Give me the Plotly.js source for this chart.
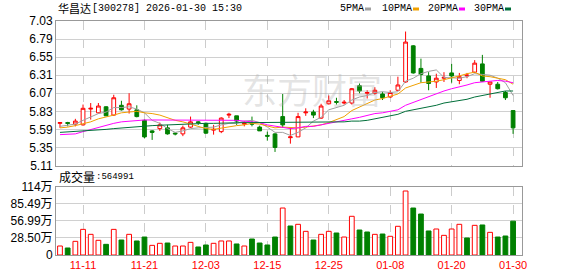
<!DOCTYPE html>
<html><head><meta charset="utf-8">
<script src="https://cdn.plot.ly/plotly-3.0.1.min.js"></script>
<style>html,body{margin:0;padding:0;background:#fff}#chart{width:578px;height:276px}</style>
</head><body><div id="chart"></div>
<script>
const dates = ['11-06','11-07','11-10','11-11','11-12','11-13','11-14','11-17','11-18','11-19','11-20','11-21','11-24','11-25','11-26','11-27','11-28','12-01','12-02','12-03','12-04','12-05','12-08','12-09','12-10','12-11','12-12','12-15','12-16','12-17','12-18','12-19','12-22','12-23','12-24','12-25','12-26','12-29','12-30','12-31','01-05','01-06','01-07','01-08','01-09','01-12','01-13','01-14','01-15','01-16','01-19','01-20','01-21','01-22','01-23','01-26','01-27','01-28','01-29','01-30'];
const openP  = [5.67,5.68,5.66,5.65,5.86,5.81,5.89,5.78,5.91,5.86,5.85,5.71,5.57,5.60,5.61,5.54,5.53,5.62,5.69,5.67,5.58,5.56,5.78,5.77,5.66,5.67,5.62,5.51,5.53,5.76,5.48,5.49,5.81,5.82,5.74,5.93,5.96,5.94,5.94,6.17,6.07,6.07,6.06,6.02,6.11,6.22,6.70,6.40,6.30,6.22,6.27,6.34,6.24,6.30,6.35,6.46,6.19,6.19,6.08,5.84];
const highP  = [5.68,5.69,5.73,5.92,5.94,5.94,5.90,6.05,5.97,6.07,5.91,5.72,5.58,5.68,5.65,5.55,5.64,5.76,5.70,5.68,5.65,5.75,5.81,5.77,5.70,5.76,5.64,5.56,5.54,6.06,5.61,5.81,5.87,5.85,5.93,6.04,6.01,5.98,6.14,6.20,6.11,6.15,6.09,6.11,6.29,6.89,6.71,6.53,6.35,6.33,6.35,6.46,6.34,6.34,6.51,6.58,6.22,6.22,6.10,5.84];
const lowP   = [5.61,5.63,5.63,5.64,5.72,5.80,5.77,5.77,5.84,5.80,5.75,5.47,5.45,5.57,5.52,5.51,5.50,5.61,5.65,5.53,5.52,5.54,5.74,5.65,5.63,5.63,5.57,5.44,5.29,5.61,5.40,5.49,5.77,5.74,5.73,5.92,5.92,5.92,5.92,6.07,6.00,6.05,5.98,6.01,6.10,6.21,6.33,6.21,6.11,6.14,6.22,6.21,6.19,6.27,6.34,6.22,6.01,6.12,5.98,5.53];
const closeP = [5.68,5.67,5.70,5.87,5.87,5.90,5.77,6.01,5.85,5.93,5.76,5.49,5.55,5.65,5.53,5.53,5.61,5.69,5.68,5.54,5.59,5.74,5.79,5.70,5.67,5.66,5.57,5.50,5.35,5.65,5.49,5.76,5.82,5.78,5.90,5.97,5.95,5.95,6.13,6.10,6.08,6.11,6.01,6.08,6.18,6.75,6.34,6.32,6.20,6.27,6.28,6.30,6.29,6.31,6.47,6.23,6.22,6.13,6.01,5.61];
// volume in 万 shares
const volume = [15.0,11.7,22.8,42.8,34.5,24.5,17.8,42.8,25.0,34.5,23.4,30.0,16.1,19.5,20.0,15.0,15.0,21.1,13.4,16.7,19.5,23.4,23.4,18.4,15.0,26.7,20.0,16.7,30.0,78.4,48.4,51.2,39.5,25.0,34.5,39.5,36.7,30.0,64.6,41.7,38.4,34.5,35.0,31.2,47.9,106.8,78.4,68.4,40.1,43.4,32.8,43.4,51.2,28.4,49.5,50.1,37.8,30.0,31.7,56.5];
const volUp = [1,0,1,1,1,1,0,1,0,1,0,0,1,1,0,1,1,1,0,0,1,1,1,0,1,0,0,0,0,1,0,1,1,0,1,1,0,1,1,0,0,1,0,1,1,1,0,0,0,1,1,1,1,0,1,0,1,0,0,0];
const ma5  = [5.63,5.64,5.66,5.71,5.76,5.80,5.82,5.88,5.88,5.89,5.86,5.81,5.71,5.67,5.60,5.55,5.57,5.60,5.61,5.61,5.62,5.65,5.67,5.67,5.70,5.71,5.68,5.62,5.55,5.55,5.51,5.55,5.61,5.70,5.75,5.85,5.88,5.91,5.98,6.02,6.04,6.08,6.09,6.08,6.09,6.23,6.27,6.33,6.36,6.38,6.28,6.28,6.27,6.29,6.33,6.32,6.31,6.27,6.21,6.04];
const ma10 = [5.61,5.62,5.64,5.66,5.69,5.73,5.75,5.78,5.81,5.82,5.83,5.81,5.80,5.78,5.74,5.71,5.69,5.66,5.64,5.60,5.59,5.61,5.63,5.64,5.65,5.67,5.66,5.64,5.61,5.62,5.61,5.61,5.62,5.63,5.65,5.68,5.72,5.76,5.84,5.89,5.94,5.98,6.00,6.03,6.06,6.14,6.17,6.21,6.22,6.23,6.25,6.27,6.30,6.33,6.35,6.30,6.29,6.27,6.25,6.19];
const ma20 = [5.52,5.52,5.53,5.56,5.59,5.62,5.65,5.67,5.69,5.70,5.71,5.715,5.715,5.715,5.715,5.715,5.715,5.715,5.715,5.71,5.71,5.71,5.72,5.71,5.70,5.69,5.68,5.65,5.63,5.61,5.60,5.61,5.63,5.63,5.65,5.67,5.69,5.70,5.73,5.75,5.78,5.80,5.81,5.83,5.85,5.91,5.95,5.99,6.03,6.06,6.10,6.13,6.15,6.18,6.21,6.22,6.23,6.24,6.23,6.21];
const ma30 = [5.55,5.555,5.56,5.565,5.57,5.58,5.59,5.60,5.61,5.62,5.63,5.635,5.64,5.645,5.65,5.655,5.66,5.66,5.665,5.67,5.67,5.675,5.675,5.68,5.68,5.68,5.68,5.68,5.68,5.68,5.68,5.68,5.68,5.68,5.68,5.68,5.69,5.69,5.70,5.70,5.71,5.73,5.75,5.76,5.79,5.83,5.85,5.87,5.89,5.91,5.94,5.96,5.97,5.99,6.02,6.04,6.06,6.08,6.10,6.10];
const tickDates = ['11-11','11-21','12-03','12-15','12-25','01-08','01-20','01-30'];
const priceTicks = [5.11,5.35,5.59,5.83,6.07,6.31,6.55,6.79,7.03];
const volTicks = [0,28.50,56.99,85.49,114];
const volTickText = ['0','28.50万','56.99万','85.49万','114万'];
const stockName = '华昌达';
const stockInfo = '[300278] 2026-01-30 15:30';
const volName = '成交量';
const volValue = ':564991';
const maNames = ['5PMA','10PMA','20PMA','30PMA'];

const RED = '#ff0000', GREEN = '#008000';
const maColors = ['#a0a0a0','#f0a000','#ff00ff','#006f3a'];
const maData = [ma5, ma10, ma20, ma30];

const traces = [];
maData.forEach((m, k) => traces.push({
  type:'scatter', mode:'lines', x:dates, y:m, xaxis:'x', yaxis:'y',
  line:{color:maColors[k], width:1}, hoverinfo:'skip'
}));
traces.push({
  type:'candlestick', x:dates, open:openP, high:highP, low:lowP, close:closeP,
  xaxis:'x', yaxis:'y', whiskerwidth:0,
  increasing:{line:{color:RED, width:1}, fillcolor:'#ffffff'},
  decreasing:{line:{color:GREEN, width:1}, fillcolor:GREEN},
  hoverinfo:'skip'
});
traces.push({
  type:'bar', x:dates, y:volume, xaxis:'x2', yaxis:'y2', width:0.62,
  marker:{color:volUp.map(u => u ? '#ffffff' : GREEN),
          line:{color:volUp.map(u => u ? RED : GREEN), width:1}},
  hoverinfo:'skip'
});

const L = 56, R = 522, B = 255, H = 234;
const px = x => (x - L) / (R - L);
const py = y => (B - y) / H;
const mono = 'Liberation Mono';
const cjk = 'Noto Sans CJK SC';

const annotations = [
  {text:'东方财富', x:px(312), y:py(89), xref:'paper', yref:'paper', showarrow:false,
   font:{family:cjk, size:35, color:'rgba(170,170,170,0.33)'}, xanchor:'center', yanchor:'middle'},
  {text:stockName, x:px(56), y:py(8.5), xref:'paper', yref:'paper', showarrow:false,
   xanchor:'left', yanchor:'middle', font:{family:cjk, size:11, color:'#000'}},
  {text:stockInfo, x:px(90), y:py(8.5), xref:'paper', yref:'paper', showarrow:false,
   xanchor:'left', yanchor:'middle', font:{family:mono, size:10, color:'#000'}},
  {text:volName, x:px(57), y:py(176), xref:'paper', yref:'paper', showarrow:false,
   xanchor:'left', yanchor:'middle', font:{family:cjk, size:12, color:'#000'}},
  {text:volValue, x:px(94), y:py(176.5), xref:'paper', yref:'paper', showarrow:false,
   xanchor:'left', yanchor:'middle', font:{family:mono, size:9, color:'#000'}}
];
const legX = [338, 380, 426, 472];
const shapes = [];
maNames.forEach((n, k) => {
  annotations.push({text:n, x:px(legX[k]), y:py(8.5), xref:'paper', yref:'paper', showarrow:false,
    xanchor:'left', yanchor:'middle', font:{family:mono, size:10, color:'#000'}});
  const sx = legX[k] + n.length * 6 + 3;
  shapes.push({type:'rect', xref:'paper', yref:'paper', x0:px(sx), x1:px(sx+6), y0:py(10.5), y1:py(7.5),
    fillcolor:maColors[k], line:{width:0}});
});

const axisCommon = {showline:true, mirror:true, linecolor:'#999999', linewidth:1, zeroline:false, ticks:'', fixedrange:true};
const layout = {
  width:578, height:276, margin:{l:56, r:56, t:21, b:21},
  paper_bgcolor:'#ffffff', plot_bgcolor:'#ffffff', showlegend:false,
  font:{family:'Liberation Sans, Noto Sans CJK SC, sans-serif', size:12, color:'#000'},
  xaxis:Object.assign({}, axisCommon, {type:'category', domain:[0,1], anchor:'y', range:[-0.52, 60.16],
    tickvals:tickDates, showticklabels:false, showgrid:true, gridcolor:'#cccccc', griddash:'dash',
    rangeslider:{visible:false}}),
  yaxis:Object.assign({}, axisCommon, {domain:[py(165.5), 1], anchor:'x', range:[5.11, 7.03],
    tickvals:priceTicks, ticktext:priceTicks.map(v => v.toFixed(2)), showgrid:true, gridcolor:'#d0d0d0',
    tickfont:{size:12, color:'#000'}}),
  xaxis2:Object.assign({}, axisCommon, {type:'category', domain:[0,1], anchor:'y2', range:[-0.52, 60.16],
    tickvals:tickDates, showgrid:true, gridcolor:'#cccccc', griddash:'dash',
    tickfont:{size:11, color:RED}}),
  yaxis2:Object.assign({}, axisCommon, {domain:[0, py(186.7)], anchor:'x2', range:[0, 114],
    tickvals:volTicks, ticktext:volTickText, showgrid:true, gridcolor:'#d0d0d0',
    tickfont:{size:12, color:'#000'}}),
  annotations:annotations, shapes:shapes
};
Plotly.newPlot('chart', traces, layout, {staticPlot:true, displayModeBar:false});
</script>
</body></html>
